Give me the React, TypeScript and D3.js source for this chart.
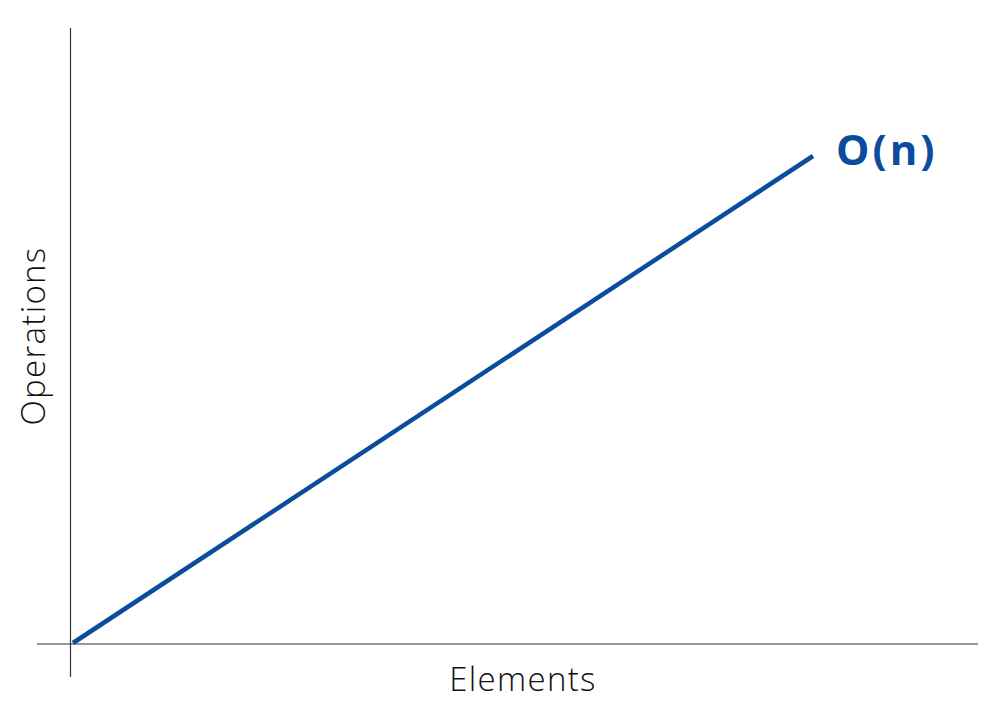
import { useEffect, useRef } from 'react'
import * as d3 from 'd3'

const elements = [0, 100]
const operations = [0, 100]
const seriesLabel = 'O(n)'
const xTitle = 'Elements'
const yTitle = 'Operations'

export default function App() {
  const svgRef = useRef<SVGSVGElement>(null)

  useEffect(() => {
    if (!svgRef.current) return
    const svg = d3.select(svgRef.current)
    svg.selectAll('*').remove()

    const width = 1000
    const height = 716
    svg.attr('width', width).attr('height', height)

    const x = d3.scaleLinear().domain([0, 100]).range([73, 813])
    const y = d3.scaleLinear().domain([0, 100]).range([643, 156])

    const data = elements.map((e, i) => ({ e, o: operations[i] }))

    // axes as plain lines, no ticks
    svg.append('line')
      .attr('x1', 37).attr('x2', 978)
      .attr('y1', 644).attr('y2', 644)
      .attr('stroke', '#777').attr('stroke-width', 1.5)

    svg.append('line')
      .attr('x1', 70.5).attr('x2', 70.5)
      .attr('y1', 28).attr('y2', 677)
      .attr('stroke', '#333').attr('stroke-width', 1.2)

    const line = d3.line<{ e: number; o: number }>()
      .x(d => x(d.e))
      .y(d => y(d.o))

    svg.append('path')
      .datum(data)
      .attr('fill', 'none')
      .attr('stroke', '#0b4c9c')
      .attr('stroke-width', 4.5)
      .attr('d', line)

    const last = data[data.length - 1]
    svg.append('text')
      .attr('x', x(last.e) + 23)
      .attr('y', y(last.o) + 9)
      .attr('fill', '#0b4c9c')
      .style('font-family', '"Open Sans", sans-serif')
      .style('font-weight', 700)
      .style('font-size', '42px')
      .style('letter-spacing', '3px')
      .text(seriesLabel)

    svg.append('text')
      .attr('x', 523)
      .attr('y', 691)
      .attr('text-anchor', 'middle')
      .attr('fill', '#111')
      .style('font-family', '"Open Sans", sans-serif')
      .style('font-weight', 300)
      .style('font-size', '33px')
      .style('letter-spacing', '1.3px')
      .text(xTitle)

    svg.append('text')
      .attr('transform', 'translate(45,336) rotate(-90)')
      .attr('text-anchor', 'middle')
      .attr('fill', '#111')
      .style('font-family', '"Open Sans", sans-serif')
      .style('font-weight', 300)
      .style('font-size', '33px')
      .style('letter-spacing', '1.3px')
      .text(yTitle)
  }, [])

  return (
    <div style={{ position: 'absolute', left: 0, top: 0, background: '#fff' }}>
      <svg ref={svgRef} style={{ display: 'block' }} />
    </div>
  )
}
